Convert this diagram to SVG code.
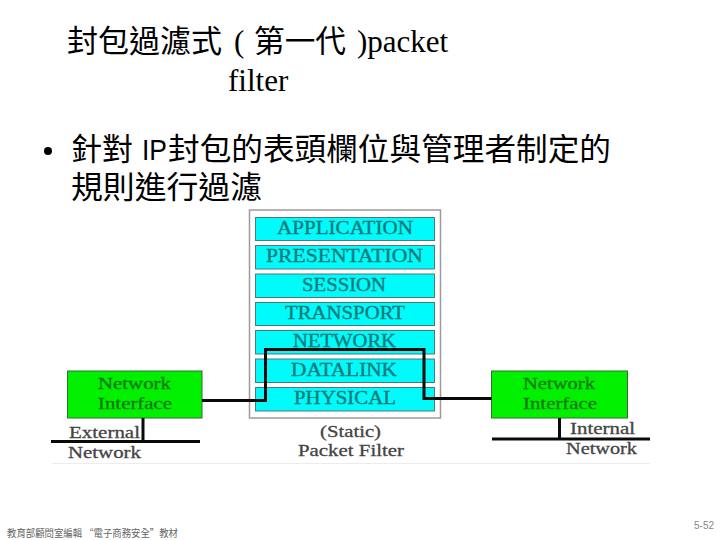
<svg xmlns="http://www.w3.org/2000/svg" width="720" height="540" viewBox="0 0 720 540">
<style>
.cjk{font-family:"Noto Sans CJK TC","Liberation Sans",sans-serif;fill:#000;font-weight:400}
.rom{font-family:"Liberation Serif",serif;fill:#000}
.layer rect{fill:#00fbfb;stroke:#4a7a7a;stroke-width:1}
.layer text{font-family:"Liberation Serif",serif;font-size:18px;fill:#157a7a;stroke:#157a7a;stroke-width:.35}
.ni rect{fill:#00f000;stroke:#2f6f2f;stroke-width:1}
.ni text{font-family:"Liberation Serif",serif;font-size:17px;fill:#127a12;stroke:#127a12;stroke-width:.3}
.lab{font-family:"Liberation Serif",serif;font-size:17px;fill:#444;stroke:#444;stroke-width:.3}
.wire{fill:none;stroke:#0a0a0a;stroke-width:3}
</style>
<rect width="720" height="540" fill="#fff"/>
<g id="title">
<text class="cjk" x="67" y="52" font-size="31" textLength="155" lengthAdjust="spacingAndGlyphs">封包過濾式</text>
<text class="rom" x="234" y="52" font-size="31">(</text>
<text class="cjk" x="254" y="52" font-size="31" textLength="92" lengthAdjust="spacingAndGlyphs">第一代</text>
<text class="rom" x="357" y="52" font-size="31">)packet</text>
<text class="rom" x="228" y="91" font-size="31">filter</text>
</g>
<g id="body">
<circle cx="48" cy="151" r="4" fill="#000"/>
<text class="cjk" x="71" y="160" font-size="31" textLength="62" lengthAdjust="spacingAndGlyphs">針對</text>
<text x="142" y="160" font-family="Liberation Sans,sans-serif" font-size="29" fill="#000" textLength="25" lengthAdjust="spacingAndGlyphs">IP</text>
<text class="cjk" x="168" y="160" font-size="31" textLength="443" lengthAdjust="spacingAndGlyphs">封包的表頭欄位與管理者制定的</text>
<text class="cjk" x="71" y="198" font-size="31" textLength="191" lengthAdjust="spacingAndGlyphs">規則進行過濾</text>
</g>
<g id="firewall">
<rect x="249.500" y="210" width="191" height="208" fill="#fff" stroke="#9a9a9a" stroke-width="1.500"/>
</g>
<g id="application" class="layer"><rect x="255.500" y="217.500" width="179" height="23"/><text x="277" y="234" textLength="136" lengthAdjust="spacingAndGlyphs">APPLICATION</text></g>
<g id="presentation" class="layer"><rect x="255.500" y="245.500" width="179" height="23.500"/><text x="266" y="262" textLength="157" lengthAdjust="spacingAndGlyphs">PRESENTATION</text></g>
<g id="session" class="layer"><rect x="255.500" y="274" width="179" height="23.500"/><text x="302" y="291" textLength="84" lengthAdjust="spacingAndGlyphs">SESSION</text></g>
<g id="transport" class="layer"><rect x="255.500" y="302.500" width="179" height="23"/><text x="285" y="319" textLength="120" lengthAdjust="spacingAndGlyphs">TRANSPORT</text></g>
<g id="network" class="layer"><rect x="255.500" y="330.500" width="179" height="23.500"/><text x="293" y="347" textLength="103" lengthAdjust="spacingAndGlyphs">NETWORK</text></g>
<g id="datalink" class="layer"><rect x="255.500" y="359" width="179" height="23.500"/><text x="291" y="376" textLength="106" lengthAdjust="spacingAndGlyphs">DATALINK</text></g>
<g id="physical" class="layer"><rect x="255.500" y="387.500" width="179" height="23.500"/><text x="294" y="404" textLength="102" lengthAdjust="spacingAndGlyphs">PHYSICAL</text></g>
<g id="left-interface" class="ni"><rect x="67.500" y="371" width="134.500" height="47"/><text x="98" y="389" textLength="73" lengthAdjust="spacingAndGlyphs">Network</text><text x="98" y="409" textLength="74" lengthAdjust="spacingAndGlyphs">Interface</text></g>
<g id="right-interface" class="ni"><rect x="491.500" y="371" width="136" height="47"/><text x="523" y="389" textLength="72" lengthAdjust="spacingAndGlyphs">Network</text><text x="523" y="409" textLength="74" lengthAdjust="spacingAndGlyphs">Interface</text></g>
<g id="connectors">
<path class="wire" d="M202 400.500H265.500V349.500H424V398.500H491.500"/>
<path class="wire" d="M143 418V441.500M51 441.500H200"/>
<path class="wire" d="M559.500 418V439M492 439H650"/>
<path d="M52 463.500H650" stroke="#ececec" stroke-width="1"/>
</g>
<g id="labels">
<text class="lab" x="69" y="438" textLength="71" lengthAdjust="spacingAndGlyphs">External</text>
<text class="lab" x="68" y="458" textLength="73" lengthAdjust="spacingAndGlyphs">Network</text>
<text class="lab" x="570" y="434" textLength="65" lengthAdjust="spacingAndGlyphs">Internal</text>
<text class="lab" x="566" y="454" textLength="71" lengthAdjust="spacingAndGlyphs">Network</text>
<text class="lab" x="320" y="437" textLength="61" lengthAdjust="spacingAndGlyphs">(Static)</text>
<text class="lab" x="298" y="456" textLength="106" lengthAdjust="spacingAndGlyphs">Packet Filter</text>
</g>
<g id="footer">
<text x="7" y="537" font-family="Noto Sans CJK TC,sans-serif" font-size="10" fill="#666" textLength="171" lengthAdjust="spacingAndGlyphs">教育部顧問室編輯 “電子商務安全”教材</text>
<text x="714" y="529" font-family="Liberation Sans,sans-serif" font-size="10" fill="#888" text-anchor="end">5-52</text>
</g>
</svg>
